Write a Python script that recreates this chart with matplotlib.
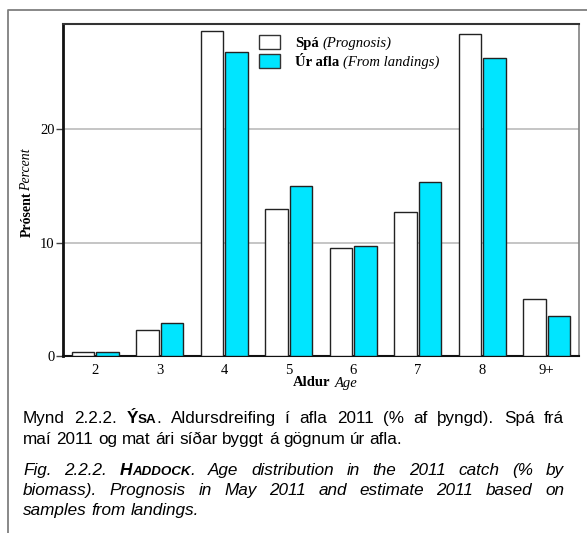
import matplotlib
matplotlib.use("Agg")
import matplotlib.pyplot as plt
from matplotlib.lines import Line2D
from matplotlib.patches import Rectangle
import numpy as np

# ---------------- data ----------------
ages = ["2", "3", "4", "5", "6", "7", "8", "9+"]
spa = [0.33, 2.3, 28.7, 13.0, 9.5, 12.7, 28.4, 5.0]          # Spá (Prognosis)
ur_afla = [0.33, 2.9, 26.8, 15.0, 9.7, 15.4, 26.3, 3.55]      # Úr afla (From landings)
yticks = [0, 10, 20]

W, H = 587, 533
fig = plt.figure(figsize=(W / 100, H / 100), dpi=100)
renderer = fig.canvas.get_renderer()

def fx(px):
    return px / W

def fy(py):
    return 1 - py / H

SERIF = "Liberation Serif"
SANS = "Liberation Sans"

# outer frame (left and top)
fig.add_artist(Line2D([fx(8), fx(8), fx(590)], [fy(540), fy(10), fy(10)],
                      color="#7f7f7f", lw=1.3, transform=fig.transFigure))

ax = fig.add_axes([fx(63), fy(356), fx(579) - fx(63), fy(24) - fy(356)])
x = np.arange(len(ages))
bw = 0.355
off = 0.19
ax.bar(x - off, spa, bw, color="white", edgecolor="#222222", linewidth=1.0, zorder=3)
ax.bar(x + off, ur_afla, bw, color="#00E5FF", edgecolor="#222222", linewidth=1.0, zorder=3)

ax.set_xlim(-0.5, len(ages) - 0.5)
ax.set_ylim(0, 29.3)
ax.set_yticks(yticks)
ax.set_yticklabels([str(v) for v in yticks], fontfamily=SERIF, fontsize=10.5)
ax.set_xticks(x)
ax.set_xticklabels(ages, fontfamily=SERIF, fontsize=10.5)
ax.tick_params(axis="x", length=0, pad=6)
ax.tick_params(axis="y", length=5, width=1, color="#444444", pad=1)
ax.grid(axis="y", color="#c0c0c0", lw=1.3, zorder=0)
ax.set_axisbelow(True)

ax.spines["left"].set_color("#111111")
ax.spines["left"].set_linewidth(2.0)
ax.spines["bottom"].set_color("#111111")
ax.spines["bottom"].set_linewidth(1.5)
ax.spines["top"].set_color("#333333")
ax.spines["top"].set_linewidth(1.5)
ax.spines["right"].set_color("#808080")
ax.spines["right"].set_linewidth(1.2)

# axis labels (bold + italic)
fig.text(fx(330), fy(383), "Aldur", fontfamily=SERIF, fontweight="bold", fontsize=10.5,
         ha="right", va="center")
fig.text(fx(335), fy(383), "Age", fontfamily=SERIF, fontstyle="italic", fontsize=10.5,
         ha="left", va="center")
fig.text(fx(27), fy(237), "Prósent", fontfamily=SERIF, fontweight="bold", fontsize=10,
         rotation=90, ha="center", va="bottom")
fig.text(fx(27), fy(191), "Percent", fontfamily=SERIF, fontstyle="italic", fontsize=10,
         rotation=90, ha="center", va="bottom")

# legend (manual, to mix bold and italic)
leg_rows = [("white", "Spá", "(Prognosis)", 42), ("#00E5FF", "Úr afla", "(From landings)", 61)]
for col, bold, ital, yc in leg_rows:
    fig.add_artist(Rectangle((fx(259), fy(yc + 6.5)), fx(280) - fx(259), fy(yc - 6.5) - fy(yc + 6.5),
                             facecolor=col, edgecolor="#333333", lw=1.0, transform=fig.transFigure))
    t1 = fig.text(fx(295), fy(yc + 4.5), bold, fontfamily=SERIF, fontweight="bold", fontsize=10.5,
                  ha="left", va="baseline")
    w1 = t1.get_window_extent(renderer).width
    fig.text(fx(295 + w1 + 4), fy(yc + 4.5), ital, fontfamily=SERIF, fontstyle="italic",
             fontsize=10.5, ha="left", va="baseline")

# ---------------- caption with justification ----------------
FS = 12.3
SC = FS * 0.78
cap_lines = [
    (False, True, [[("Mynd", "n")], [("2.2.2.", "n")], [("Ý", "b"), ("SA", "bs"), (".", "n")],
                   [("Aldursdreifing", "n")], [("í", "n")], [("afla", "n")], [("2011", "n")],
                   [("(%", "n")], [("af", "n")], [("þyngd).", "n")], [("Spá", "n")], [("frá", "n")]], 423),
    (False, False, [[(w, "n")] for w in "maí 2011 og mat ári síðar byggt á gögnum úr afla.".split()], 444),
    (True, True, [[("Fig.", "n")], [("2.2.2.", "n")], [("H", "b"), ("ADDOCK", "bs"), (".", "n")],
                  [("Age", "n")], [("distribution", "n")], [("in", "n")], [("the", "n")], [("2011", "n")],
                  [("catch", "n")], [("(%", "n")], [("by", "n")]], 475),
    (True, True, [[(w, "n")] for w in "biomass). Prognosis in May 2011 and estimate 2011 based on".split()], 495),
    (True, False, [[(w, "n")] for w in "samples from landings.".split()], 515),
]
LEFT, RIGHT = 23, 564

def mk(txt, st, italic, xpx, ypx):
    return fig.text(fx(xpx), fy(ypx), txt, fontfamily=SANS,
                    fontsize=SC if "s" in st else FS,
                    fontweight="bold" if "b" in st else "normal",
                    fontstyle="italic" if italic else "normal",
                    ha="left", va="baseline")

space_t = fig.text(0, 0, "a a", fontfamily=SANS, fontsize=FS)
aa = fig.text(0, 0, "aa", fontfamily=SANS, fontsize=FS)
space_w = space_t.get_window_extent(renderer).width - aa.get_window_extent(renderer).width
space_t.remove()
aa.remove()

for italic, justify, words, ybase in cap_lines:
    widths = []
    for word in words:
        wsum = 0
        for txt, st in word:
            t = mk(txt, st, italic, 0, 0)
            wsum += t.get_window_extent(renderer).width
            t.remove()
        widths.append(wsum)
    if justify and len(words) > 1:
        gap = (RIGHT - LEFT - sum(widths)) / (len(words) - 1)
    else:
        gap = space_w
    xpos = LEFT
    for word, wd in zip(words, widths):
        xx = xpos
        for txt, st in word:
            t = mk(txt, st, italic, xx, ybase)
            xx += t.get_window_extent(renderer).width
        xpos += wd + gap

fig.savefig("out.png", dpi=100)
